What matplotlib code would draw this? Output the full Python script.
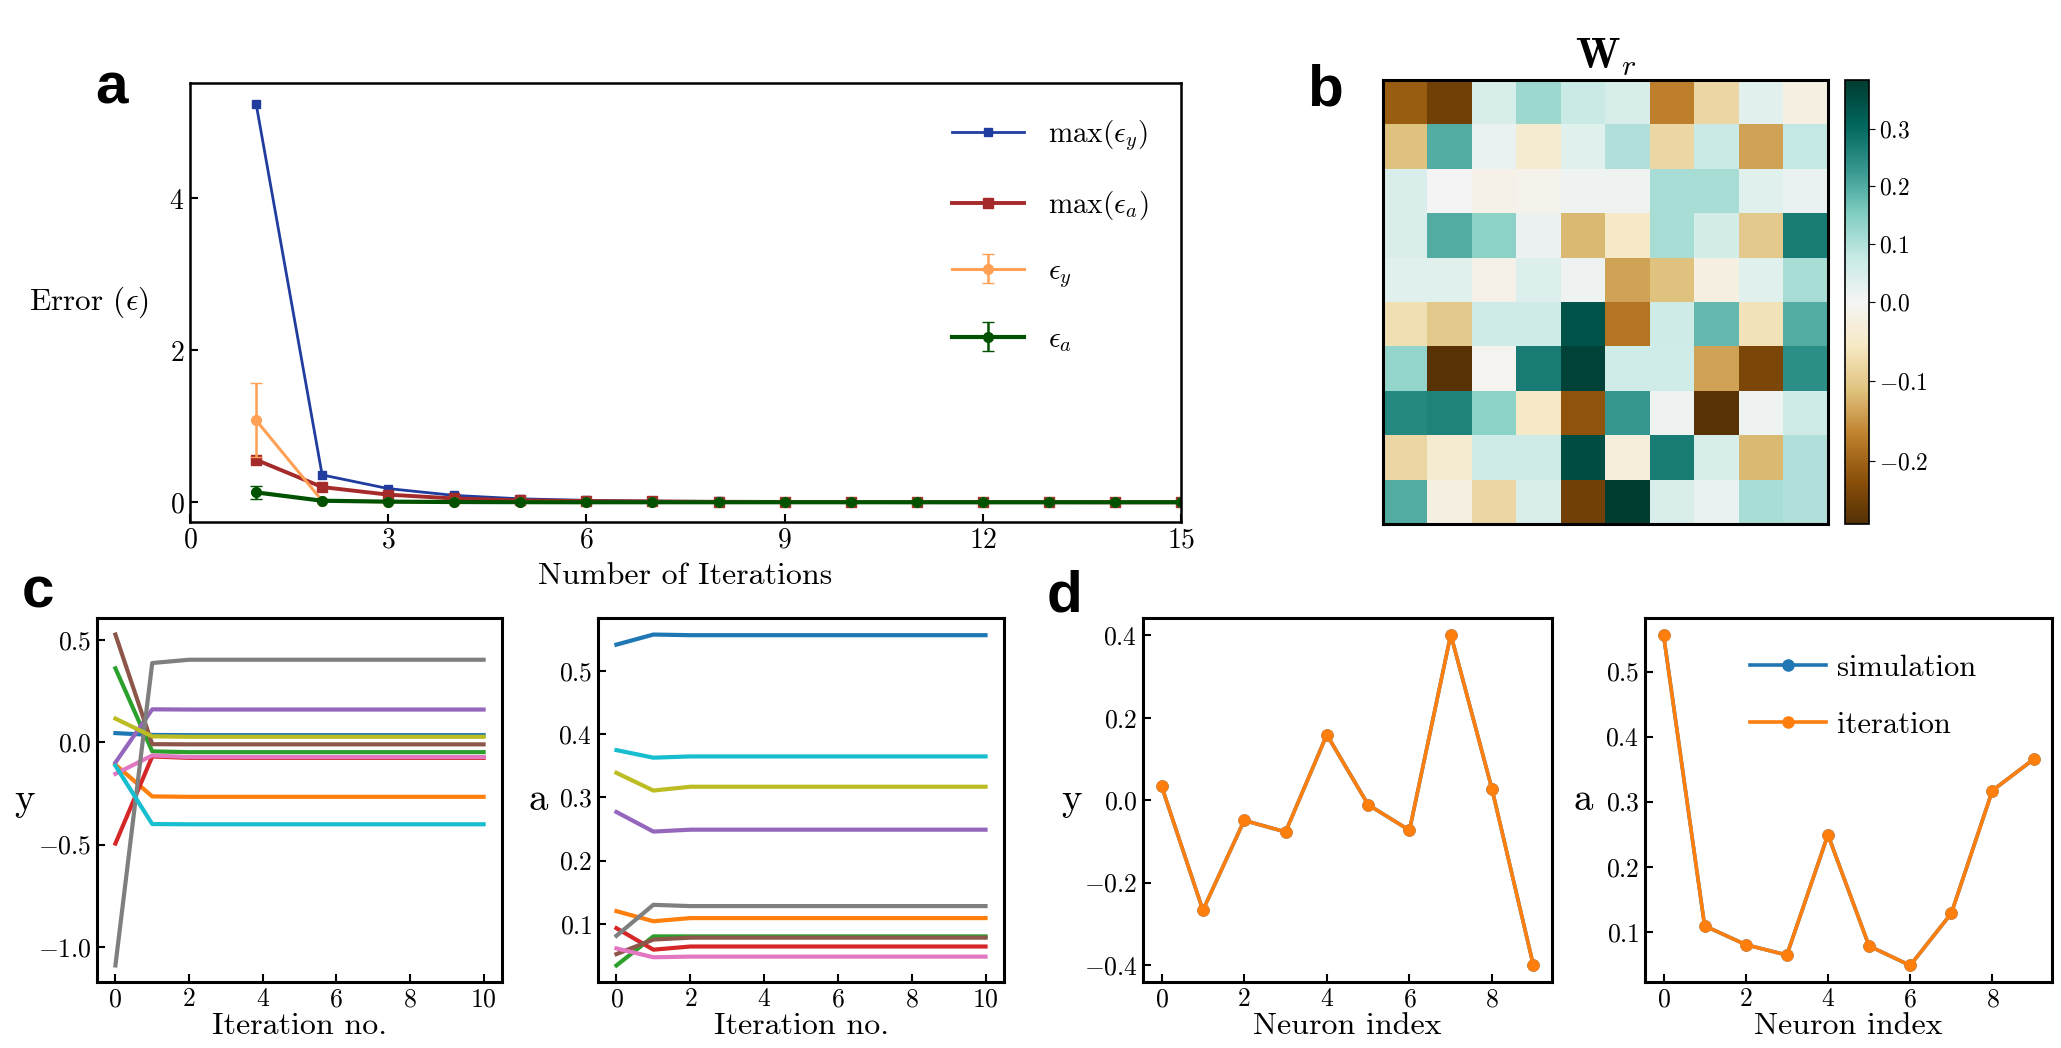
import matplotlib
matplotlib.use("Agg")
import matplotlib.pyplot as plt
import matplotlib.colors as mcolors
import numpy as np

plt.rcParams['font.family'] = 'serif'
plt.rcParams['font.serif'] = ['cmr10']
plt.rcParams['mathtext.fontset'] = 'cm'
plt.rcParams['axes.formatter.use_mathtext'] = True

# ---- panel a data ----
iters = np.arange(1, 16)
max_eps_y = [5.25, 0.36, 0.18, 0.09, 0.045, 0.025, 0.015, 0.01, 0.006, 0.004, 0.003, 0.002, 0.001, 0.001, 0.0]
max_eps_a = [0.56, 0.20, 0.10, 0.05, 0.025, 0.015, 0.01, 0.006, 0.004, 0.003, 0.002, 0.001, 0.001, 0.0, 0.0]
eps_y = [1.08, 0.02, 0.005, 0.002, 0.001, 0.0, 0.0, 0.0, 0.0, 0.0, 0.0, 0.0, 0.0, 0.0, 0.0]
eps_y_err = [0.49, 0.01, 0.003, 0.001, 0.0, 0.0, 0.0, 0.0, 0.0, 0.0, 0.0, 0.0, 0.0, 0.0, 0.0]
eps_a = [0.13, 0.02, 0.008, 0.003, 0.001, 0.0, 0.0, 0.0, 0.0, 0.0, 0.0, 0.0, 0.0, 0.0, 0.0]
eps_a_err = [0.09, 0.01, 0.003, 0.001, 0.0, 0.0, 0.0, 0.0, 0.0, 0.0, 0.0, 0.0, 0.0, 0.0, 0.0]

# ---- panel b data (W_r) ----
W_r = np.array([
    [-0.21, -0.25, 0.05, 0.12, 0.07, 0.05, -0.17, -0.08, 0.03, -0.02],
    [-0.11, 0.20, 0.02, -0.04, 0.035, 0.10, -0.08, 0.07, -0.14, 0.08],
    [0.045, 0.0, -0.015, -0.01, 0.01, 0.01, 0.11, 0.11, 0.035, 0.02],
    [0.045, 0.20, 0.14, 0.015, -0.12, -0.05, 0.11, 0.055, -0.10, 0.27],
    [0.035, 0.035, -0.015, 0.04, 0.01, -0.14, -0.11, -0.02, 0.035, 0.11],
    [-0.07, -0.10, 0.065, 0.065, 0.34, -0.18, 0.065, 0.18, -0.065, 0.20],
    [0.13, -0.275, -0.005, 0.27, 0.37, 0.06, 0.06, -0.14, -0.24, 0.24],
    [0.25, 0.26, 0.14, -0.05, -0.22, 0.23, 0.01, -0.275, 0.01, 0.065],
    [-0.08, -0.04, 0.065, 0.065, 0.35, -0.03, 0.27, 0.05, -0.12, 0.10],
    [0.20, -0.02, -0.08, 0.045, -0.25, 0.38, 0.045, 0.02, 0.11, 0.10],
])
w_min, w_max = -0.28, 0.384

# ---- panel c / d data ----
n_iter = 11
y_iter0 = [0.044, -0.11, 0.36, -0.495, -0.10, 0.525, -0.155, -1.09, 0.115, -0.115]
y_iter1 = [0.035, -0.265, -0.045, -0.07, 0.16, -0.01, -0.065, 0.386, 0.028, -0.40]
y_final = [0.034, -0.267, -0.049, -0.077, 0.159, -0.011, -0.073, 0.402, 0.026, -0.401]

a_iter0 = [0.542, 0.12, 0.034, 0.093, 0.277, 0.052, 0.061, 0.081, 0.339, 0.375]
a_iter1 = [0.558, 0.104, 0.08, 0.059, 0.246, 0.075, 0.047, 0.13, 0.311, 0.363]
a_final = [0.557, 0.109, 0.080, 0.064, 0.249, 0.078, 0.048, 0.128, 0.317, 0.365]

neuron = np.arange(10)

W, H = 2061, 1048
fig = plt.figure(figsize=(W / 100, H / 100), dpi=100)


def box(l, r, t, b):
    return [l / W, 1 - b / H, (r - l) / W, (b - t) / H]


def style(ax, lw=2.2, size=18.5):
    for s in ax.spines.values():
        s.set_linewidth(lw)
    ax.tick_params(direction='in', length=6, width=1.5, labelsize=size, pad=4)


# panel a
ax = fig.add_axes(box(190, 1181, 83, 522))
ax.plot(iters, max_eps_y, '-s', color='#1f3c9e', lw=2.0, ms=6, label=r'$\max(\epsilon_y)$')
ax.plot(iters, max_eps_a, '-s', color='#a52a2a', lw=2.8, ms=7, label=r'$\max(\epsilon_a)$')
ax.errorbar(iters, eps_y, yerr=eps_y_err, fmt='-o', color='#ffa054', lw=2.2, ms=7,
            capsize=4, elinewidth=1.8, label=r'$\epsilon_y$')
ax.errorbar(iters, eps_a, yerr=eps_a_err, fmt='-o', color='#005200', lw=3.0, ms=7,
            capsize=4, elinewidth=1.8, label=r'$\epsilon_a$')
ax.set_xlim(0, 15)
ax.set_ylim(-0.26, 5.52)
ax.set_xticks([0, 3, 6, 9, 12, 15])
ax.set_yticks([0, 2, 4])
style(ax, 1.8, 20)
ax.set_xlabel('Number of Iterations', fontsize=23, labelpad=6)
ax.set_ylabel(r'Error ($\epsilon$)', fontsize=22.5, rotation=0, va='center')
ax.yaxis.set_label_coords(-0.102, 0.5)
ax.legend(loc='upper left', bbox_to_anchor=(0.742, 0.98), frameon=False, fontsize=21,
          handlelength=2.5, labelspacing=1.25, handletextpad=0.8)

# panel b
axb = fig.add_axes(box(1383, 1828, 80, 524))
norm = mcolors.TwoSlopeNorm(vmin=w_min, vcenter=0.0, vmax=w_max)
im = axb.imshow(W_r, cmap='BrBG', norm=norm, aspect='auto', interpolation='nearest')
axb.set_xticks([])
axb.set_yticks([])
for s in axb.spines.values():
    s.set_linewidth(2.2)
axb.set_title(r'$\mathbf{W}_r$', fontsize=31, pad=8)
cax = fig.add_axes(box(1845, 1869, 80, 524))
cb = fig.colorbar(im, cax=cax)
cb.set_ticks([-0.2, -0.1, 0.0, 0.1, 0.2, 0.3])
cb.ax.tick_params(labelsize=17, length=4)
cb.outline.set_linewidth(1.2)

colors = plt.rcParams['axes.prop_cycle'].by_key()['color']

# panel c
axc1 = fig.add_axes(box(97, 502, 618, 982))
axc2 = fig.add_axes(box(598, 1004, 618, 982))
for i in range(10):
    ys = [y_iter0[i], y_iter1[i]] + [y_final[i]] * (n_iter - 2)
    axs = [a_iter0[i], a_iter1[i]] + [a_final[i]] * (n_iter - 2)
    axc1.plot(np.arange(n_iter), ys, color=colors[i], lw=3.0)
    axc2.plot(np.arange(n_iter), axs, color=colors[i], lw=3.0)
for a_, lab, lx in ((axc1, 'y', -0.178), (axc2, 'a', -0.148)):
    style(a_)
    a_.set_xticks([0, 2, 4, 6, 8, 10])
    a_.set_xlabel('Iteration no.', fontsize=23, labelpad=1)
    a_.set_ylabel(lab, fontsize=28, rotation=0, va='center')
    a_.yaxis.set_label_coords(lx, 0.5)
axc1.set_yticks([-1.0, -0.5, 0.0, 0.5])
axc2.set_yticks([0.1, 0.2, 0.3, 0.4, 0.5])

# panel d
axd1 = fig.add_axes(box(1143, 1552, 618, 982))
axd2 = fig.add_axes(box(1645, 2052, 618, 982))
axd1.plot(neuron, y_final, '-o', color='C0', lw=2.6, ms=8, label='simulation')
axd1.plot(neuron, y_final, '-o', color='C1', lw=2.6, ms=8, label='iteration')
axd2.plot(neuron, a_final, '-o', color='C0', lw=2.6, ms=8, label='simulation')
axd2.plot(neuron, a_final, '-o', color='C1', lw=2.6, ms=8, label='iteration')
for a_, lab, lx in ((axd1, 'y', -0.176), (axd2, 'a', -0.152)):
    style(a_)
    a_.set_xticks([0, 2, 4, 6, 8])
    a_.set_xlabel('Neuron index', fontsize=23, labelpad=1)
    a_.set_ylabel(lab, fontsize=28, rotation=0, va='center')
    a_.yaxis.set_label_coords(lx, 0.5)
axd1.set_yticks([-0.4, -0.2, 0.0, 0.2, 0.4])
axd2.set_yticks([0.1, 0.2, 0.3, 0.4, 0.5])
axd2.legend(loc='upper left', bbox_to_anchor=(0.19, 0.975), frameon=False, fontsize=22,
            handlelength=2.5, labelspacing=0.95, handletextpad=0.35)

# panel letters
for x, y, t in ((95, 103, 'a'), (1307, 105, 'b'), (22, 607, 'c'), (1047, 612, 'd')):
    fig.text(x / W, 1 - y / H, t, fontsize=42, fontweight='bold', family='Liberation Sans')

fig.savefig('out.png', dpi=100)
